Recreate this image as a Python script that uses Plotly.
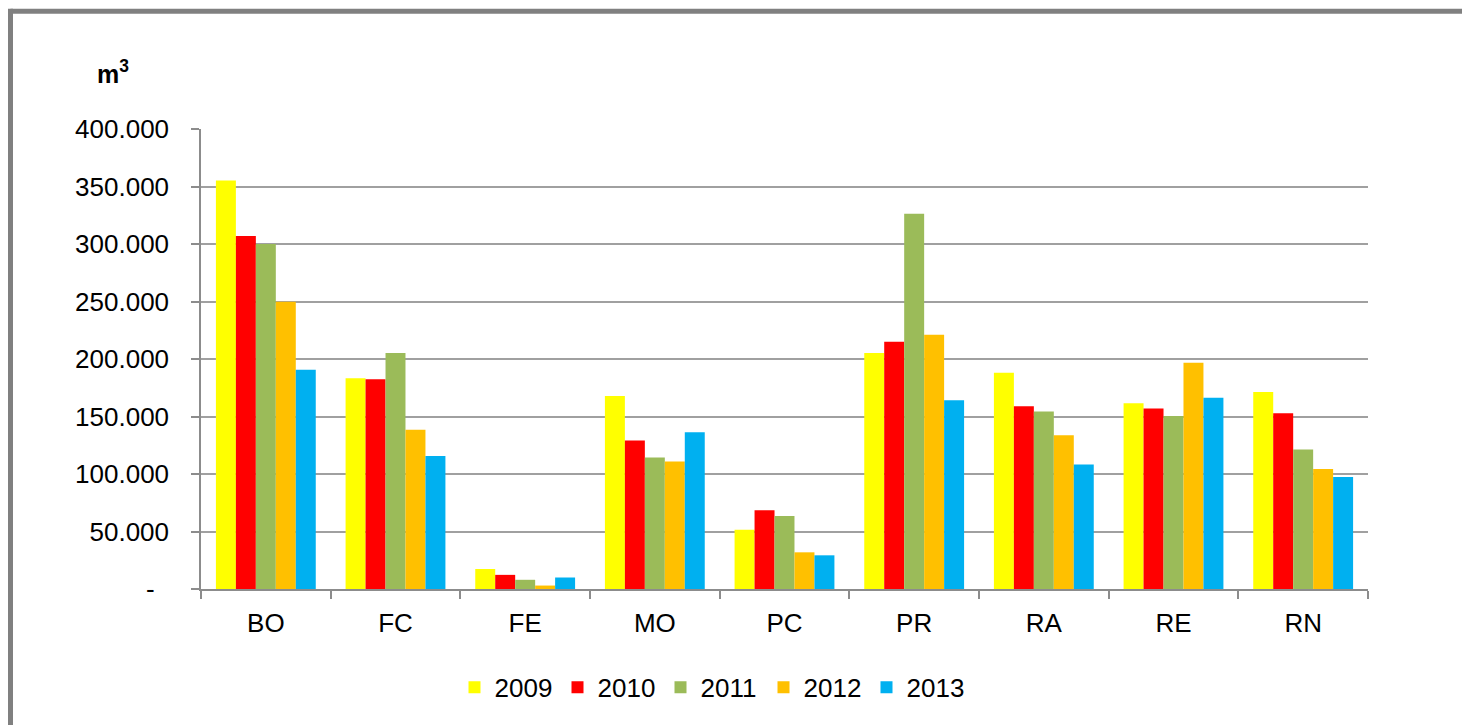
import plotly.graph_objects as go

categories = ["BO", "FC", "FE", "MO", "PC", "PR", "RA", "RE", "RN"]
years = ["2009", "2010", "2011", "2012", "2013"]
v2009 = [355300, 183200, 17400, 167900, 51600, 205200, 188100, 161600, 171400]
v2010 = [307000, 182400, 12300, 129100, 68400, 215000, 159000, 156900, 152900]
v2011 = [300000, 205200, 8000, 114400, 63500, 326400, 154300, 150500, 121300]
v2012 = [249700, 138400, 3000, 110900, 31900, 221000, 133800, 196800, 104300]
v2013 = [190700, 115600, 10000, 136400, 29300, 164200, 108300, 166400, 97400]
series = [v2009, v2010, v2011, v2012, v2013]
colors = ["#FFFF00", "#FF0000", "#9BBB59", "#FFC000", "#00B0F0"]

tick_vals = [0, 50000, 100000, 150000, 200000, 250000, 300000, 350000, 400000]
tick_text = ["-\u00a0\u00a0", "50.000", "100.000", "150.000", "200.000",
             "250.000", "300.000", "350.000", "400.000"]

FONT = "Liberation Sans, Arial, sans-serif"
FS = 26

fig = go.Figure()
for name, vals, col in zip(years, series, colors):
    fig.add_trace(go.Bar(x=categories, y=vals, name=name,
                         marker=dict(color=col, line=dict(width=0))))

# pixel geometry helpers
L, R, T, B = 201, 1368, 128.5, 589.5
def px(x):
    return (x - L) / (R - L)
def py(y):
    return (B - y) / (B - T)

fig.update_layout(
    width=1462, height=725,
    margin=dict(l=L, r=1462 - R, t=T, b=725 - B),
    paper_bgcolor="white", plot_bgcolor="white",
    barmode="group", bargap=0.23, bargroupgap=0,
    font=dict(family=FONT, size=FS, color="#000000"),
    showlegend=True,
    legend=dict(orientation="h", x=px(712), xanchor="center",
                y=py(688), yanchor="middle",
                font=dict(family=FONT, size=FS, color="#000000"),
                bgcolor="rgba(0,0,0,0)", traceorder="normal",
                itemsizing="constant", entrywidth=58, entrywidthmode="pixels"),
    xaxis=dict(type="category", showgrid=False, showline=True,
               linecolor="#8c8c8c", linewidth=1.5,
               ticks="outside", tickson="boundaries", ticklen=8,
               tickcolor="#8c8c8c", tickwidth=1.5,
               tickfont=dict(family=FONT, size=FS, color="#000000"),
               ticklabelstandoff=10),
    yaxis=dict(range=[0, 400000], tickvals=tick_vals, ticktext=tick_text,
               showgrid=True, gridcolor="#a0a0a0", gridwidth=1.5,
               showline=True, linecolor="#8c8c8c", linewidth=1.5,
               ticks="outside", ticklen=8, tickcolor="#8c8c8c", tickwidth=1.5,
               tickfont=dict(family=FONT, size=FS, color="#000000"),
               ticklabelstandoff=17, zeroline=False),
    annotations=[dict(text="<b>m<sup>3</sup></b>", xref="paper", yref="paper",
                      x=px(113), y=py(71), xanchor="center", yanchor="middle",
                      showarrow=False,
                      font=dict(family=FONT, size=25, color="#000000"))],
    shapes=[
        dict(type="line", xref="paper", yref="paper",
             x0=px(10.5), x1=px(1470), y0=py(10.5), y1=py(10.5),
             line=dict(color="#808080", width=5)),
        dict(type="line", xref="paper", yref="paper",
             x0=px(10.5), x1=px(10.5), y0=py(8), y1=py(740),
             line=dict(color="#808080", width=5)),
    ],
)

fig.write_html("out.html", config={"displayModeBar": False},
               post_script="document.body.style.margin='0';document.body.style.overflow='hidden';")
